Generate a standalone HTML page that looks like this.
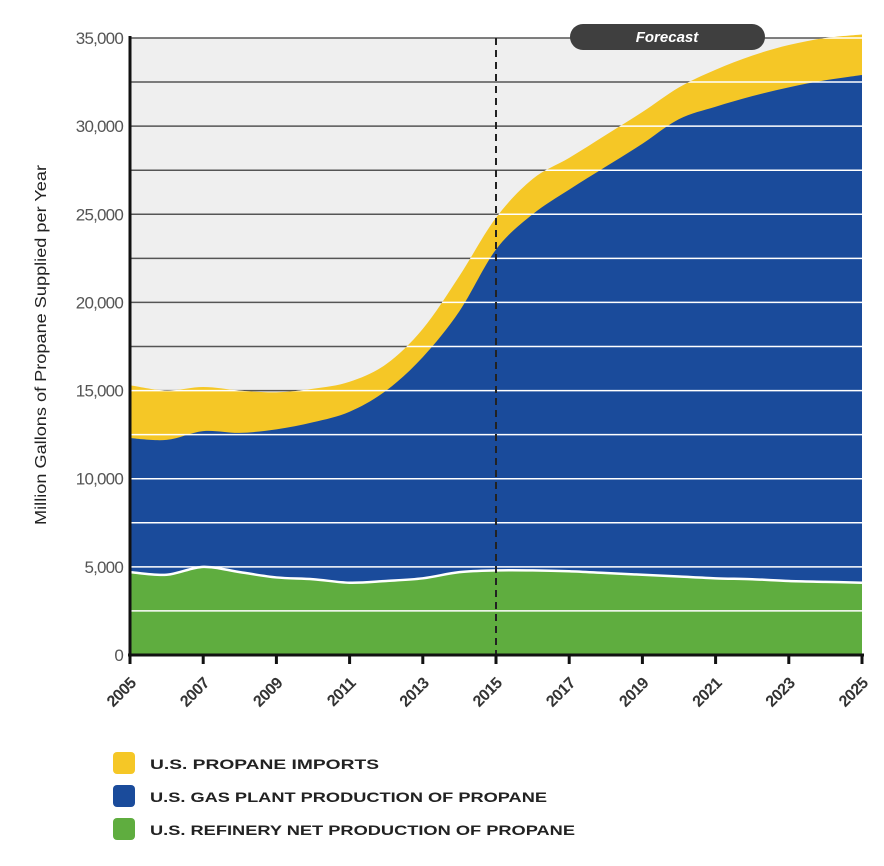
<!DOCTYPE html>
<html><head><meta charset="utf-8">
<style>
html,body{margin:0;padding:0;background:#fff;}
svg{display:block;font-family:"Liberation Sans",sans-serif;}
</style></head>
<body>
<svg id="s" width="884" height="866" viewBox="0 0 884 866" xmlns="http://www.w3.org/2000/svg">
<defs><clipPath id="cp"><path id="cpPath" d=""/></clipPath></defs>
<rect x="130" y="38" width="732" height="617" fill="#efefef"/>
<g id="darkgrid" stroke="#555" stroke-width="1.5"></g>
<path id="yel" fill="#f5c726"/>
<path id="blu" fill="#1a4b9b"/>
<path id="grn" fill="#5fad3f"/>
<path id="gline" fill="none" stroke="#fff" stroke-width="2.5"/>
<g id="wgrid" stroke="#fff" stroke-width="1.5" clip-path="url(#cp)"></g>
<line x1="496" y1="38" x2="496" y2="655" stroke="#222" stroke-width="2" stroke-dasharray="7,5"/>
<rect x="570" y="24" width="195" height="26" rx="13" fill="#3f3f3f"/>
<text x="667" y="42" text-anchor="middle" fill="#fff" font-size="15" font-weight="bold" font-style="italic">Forecast</text>
<line x1="130" y1="36" x2="130" y2="657" stroke="#111" stroke-width="3"/>
<line x1="128" y1="655" x2="864" y2="655" stroke="#111" stroke-width="3"/>
<g id="ticks"></g>
<text transform="translate(46,345) rotate(-90)" text-anchor="middle" font-size="16" fill="#222" textLength="360" lengthAdjust="spacingAndGlyphs">Million Gallons of Propane Supplied per Year</text>
<rect x="113" y="752" width="22" height="22" rx="4" fill="#f5c726"/>
<rect x="113" y="785" width="22" height="22" rx="4" fill="#1a4b9b"/>
<rect x="113" y="818" width="22" height="22" rx="4" fill="#5fad3f"/>
<g font-size="14" font-weight="bold" fill="#222">
<text x="150" y="769" textLength="229" lengthAdjust="spacingAndGlyphs">U.S. PROPANE IMPORTS</text>
<text x="150" y="802" textLength="397" lengthAdjust="spacingAndGlyphs">U.S. GAS PLANT PRODUCTION OF PROPANE</text>
<text x="150" y="835" textLength="425" lengthAdjust="spacingAndGlyphs">U.S. REFINERY NET PRODUCTION OF PROPANE</text>
</g>
</svg>
<script>
var X=function(i){return 130+i*36.6;},Y=function(v){return 655-v*0.017629;};
var yel=[15300,15000,15200,15000,14900,15100,15500,16500,18500,21500,24800,27000,28200,29500,30800,32200,33200,34000,34600,35000,35200];
var blu=[12300,12200,12700,12600,12800,13200,13800,15000,16900,19500,23000,25000,26400,27700,29000,30400,31100,31700,32200,32600,32900];
var grn=[4700,4550,5000,4700,4400,4300,4100,4200,4350,4700,4800,4800,4750,4650,4550,4450,4350,4300,4200,4150,4100];
function curve(a){var p=a.map(function(v,i){return[X(i),Y(v)];});var d="M"+p[0][0]+","+p[0][1];
for(var i=0;i<p.length-1;i++){var p0=p[i-1]||p[i],p1=p[i],p2=p[i+1],p3=p[i+2]||p2;
d+=" C"+(p1[0]+(p2[0]-p0[0])/6)+","+(p1[1]+(p2[1]-p0[1])/6)+" "+(p2[0]-(p3[0]-p1[0])/6)+","+(p2[1]-(p3[1]-p1[1])/6)+" "+p2[0]+","+p2[1];}return d;}
function area(a){return curve(a)+" L862,655 L130,655 Z";}
document.getElementById("yel").setAttribute("d",area(yel));
document.getElementById("blu").setAttribute("d",area(blu));
document.getElementById("grn").setAttribute("d",area(grn));
document.getElementById("gline").setAttribute("d",curve(grn));
document.getElementById("cpPath").setAttribute("d",area(yel));
var NS="http://www.w3.org/2000/svg",dg=document.getElementById("darkgrid"),wg=document.getElementById("wgrid"),tk=document.getElementById("ticks");
function el(t,at,par,txt){var e=document.createElementNS(NS,t);for(var k in at)e.setAttribute(k,at[k]);if(txt)e.textContent=txt;par.appendChild(e);return e;}
for(var v=2500;v<=35000;v+=2500){var y=Y(v);el("line",{x1:130,x2:862,y1:y,y2:y},dg);el("line",{x1:130,x2:862,y1:y,y2:y},wg);}
var labs=["0","5,000","10,000","15,000","20,000","25,000","30,000","35,000"];
for(var i=0;i<8;i++){el("text",{x:123,y:Y(i*5000)+6,"text-anchor":"end","font-size":"17",fill:"#555","letter-spacing":"-0.8"},tk,labs[i]);}
for(var i=0;i<=10;i++){var x=X(i*2);el("line",{x1:x,x2:x,y1:655,y2:664,stroke:"#111","stroke-width":3},tk);
el("text",{transform:"translate("+(x+7)+",684) rotate(-45)","text-anchor":"end","font-size":"16","font-weight":"bold",fill:"#333","letter-spacing":"-0.5"},tk,String(2005+i*2));}
</script>
</body></html>
